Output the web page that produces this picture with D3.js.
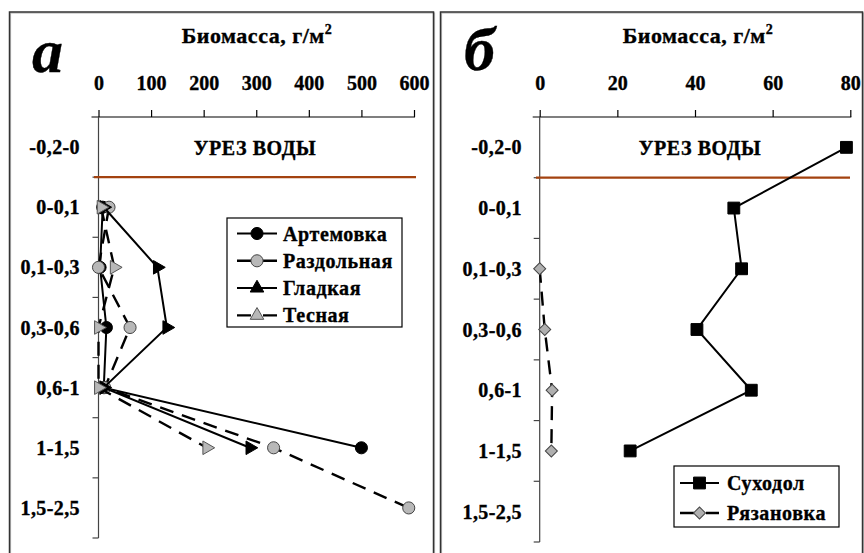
<!DOCTYPE html>
<html><head><meta charset="utf-8">
<script src="https://cdn.jsdelivr.net/npm/d3@7"></script>
<style>
body{margin:0;background:#fff;}
svg{display:block;}
svg text{font-family:"Liberation Serif","Times New Roman",serif !important;font-weight:bold;stroke:#000;stroke-width:0.35px;}
</style>
</head><body><svg id="c" width="864" height="553"></svg>
<script>
// ---- data ----
const depthCategories = ["-0,2-0","0-0,1","0,1-0,3","0,3-0,6","0,6-1","1-1,5","1,5-2,5"];
const ticksA = [0,100,200,300,400,500,600];
const ticksB = [0,20,40,60,80];
const artemovka  = [null, 8, 3, 15, 10, 500, null];
const razdolnaya = [null, 20, 0, 60, 12, 333, 590];
const gladkaya   = [null, 10, 112, 130, 10, 288, null];
const tesnaya    = [null, 5, 30, 0, 0, 206, null];
const sukhodol   = [79, 50, 52, 40.5, 54.5, 23.3, null];
const ryazanovka = [null, null, 0, 1.3, 3.2, 3, null];
const axisTitle = "Биомасса, г/м";
const waterLabel = "УРЕЗ ВОДЫ";

const svg = d3.select("#c");
const BROWN = "#a3420f";
const DASH = "14,9";

function frame(x, y, w, h){
  svg.append("rect").attr("x",x+1).attr("y",y+1).attr("width",w).attr("height",h)
     .attr("fill","none").attr("stroke","#bbb").attr("stroke-width",1.2);
  svg.append("rect").attr("x",x).attr("y",y).attr("width",w).attr("height",h)
     .attr("fill","none").attr("stroke","#333").attr("stroke-width",1.5);
}
frame(9.5, 12, 424, 560);
frame(440.5, 12, 422, 560);

const markers = {
  circleBlack: {type:d3.symbolCircle, size:115, fill:"#000", stroke:"#000", rot:0},
  circleGray:  {type:d3.symbolCircle, size:115, fill:"#b8b8b8", stroke:"#444", rot:0},
  triBlack:    {type:d3.symbolTriangle, size:80, fill:"#000", stroke:"#000", rot:90},
  triGray:     {type:d3.symbolTriangle, size:80, fill:"#b8b8b8", stroke:"#555", rot:90},
  square:      {type:d3.symbolSquare, size:140, fill:"#000", stroke:"#000", rot:0},
  diamond:     {type:d3.symbolSquare, size:72, fill:"#b0b0b0", stroke:"#444", rot:45}
};

function panel(cfg){
  const g = svg.append("g");
  const x = d3.scaleLinear().domain(cfg.domain).range([cfg.x0, cfg.x1]);
  const y = d3.scaleBand().domain(depthCategories).range([cfg.yTop, cfg.yBot]).padding(0);
  const yc = c => y(c) + y.bandwidth()/2;

  const ax = g.append("g").attr("transform",`translate(0,${cfg.yTop})`)
    .call(d3.axisTop(x).tickValues(cfg.ticks).tickSize(7).tickSizeOuter(0).tickPadding(20).tickFormat(d3.format("d")));
  ax.attr("font-family",null).attr("font-size",null);
  ax.select(".domain").remove();
  ax.selectAll(".tick line").attr("stroke","#000").attr("stroke-width",1.2);
  ax.selectAll(".tick text").attr("font-size",20).attr("fill","#000");
  g.append("line").attr("x1",cfg.x0-7).attr("x2",cfg.x1+1).attr("y1",cfg.yTop).attr("y2",cfg.yTop)
    .attr("stroke","#000").attr("stroke-width",1.2);

  g.append("line").attr("x1",cfg.x0).attr("x2",cfg.x0).attr("y1",cfg.yTop).attr("y2",cfg.yBot)
    .attr("stroke","#444").attr("stroke-width",1.2);
  const bounds = depthCategories.slice(1).map(c=>y(c)).concat([cfg.yBot]);
  g.selectAll(".yt").data(bounds).enter().append("line")
    .attr("x1",cfg.x0-6).attr("x2",cfg.x0).attr("y1",d=>d).attr("y2",d=>d)
    .attr("stroke","#444").attr("stroke-width",1.2);
  g.selectAll(".yl").data(depthCategories).enter().append("text")
    .attr("x",cfg.labelX).attr("y",d=>yc(d)+7).attr("text-anchor","end")
    .attr("font-size",20).attr("letter-spacing","0.4px").text(d=>d);

  const t = g.append("text").attr("x",cfg.titleX).attr("y",43).attr("text-anchor","middle").attr("font-size",22).attr("letter-spacing","0.5px");
  t.append("tspan").text(axisTitle);
  t.append("tspan").attr("font-size",14).attr("dy",-9).text("2");
  g.append("text").attr("x",cfg.letterX).attr("y",cfg.letterY).attr("font-size",62)
    .attr("font-style","italic").text(cfg.letter);
  g.append("text").attr("x",cfg.waterX).attr("y",155).attr("text-anchor","middle").attr("font-size",20).attr("letter-spacing","0.6px").text(waterLabel);
  g.append("line").attr("x1",cfg.wl0).attr("x2",cfg.wl1).attr("y1",y(depthCategories[1])).attr("y2",y(depthCategories[1]))
    .attr("stroke",BROWN).attr("stroke-width",2.2);

  cfg.series.forEach(s=>{
    const pts = depthCategories.map((c,i)=>({c, v:s.values[i]}));
    const line = d3.line().defined(d=>d.v!=null).x(d=>x(d.v)).y(d=>yc(d.c));
    g.append("path").attr("d",line(pts)).attr("fill","none").attr("stroke","#000")
      .attr("stroke-width",s.dash?2.4:2).attr("stroke-dasharray",s.dash?DASH:null);
    const m = markers[s.marker];
    g.selectAll(null).data(pts.filter(d=>d.v!=null)).enter().append("path")
      .attr("d",d3.symbol().type(m.type).size(m.size)())
      .attr("transform",d=>`translate(${x(d.v)},${yc(d.c)}) rotate(${m.rot})`)
      .attr("fill",m.fill).attr("stroke",m.stroke).attr("stroke-width",1);
  });

  const L = cfg.legend;
  g.append("rect").attr("x",L.x).attr("y",L.y).attr("width",L.w).attr("height",L.h)
    .attr("fill","#fff").attr("stroke","#000").attr("stroke-width",1.2);
  cfg.series.forEach((s,i)=>{
    const yy = L.y0 + i*L.dy;
    g.append("line").attr("x1",L.lx0).attr("x2",L.lx1).attr("y1",yy).attr("y2",yy)
      .attr("stroke","#000").attr("stroke-width",s.dash?2.4:2).attr("stroke-dasharray",s.dash?"14,12":null);
    const m = markers[s.marker];
    const rot = (s.marker.startsWith("tri")) ? 0 : m.rot;
    g.append("path").attr("d",d3.symbol().type(m.type).size(m.size)())
      .attr("transform",`translate(${(L.lx0+L.lx1)/2},${yy}) rotate(${rot})`)
      .attr("fill",m.fill).attr("stroke",m.stroke).attr("stroke-width",1);
    g.append("text").attr("x",L.tx).attr("y",yy+7).attr("font-size",20).attr("letter-spacing","0.6px").text(s.name);
  });
}

panel({
  domain:[0,600], ticks:ticksA, x0:98.5, x1:414, yTop:117, yBot:538, labelX:80,
  titleX:257, letter:"а", letterX:32, letterY:72, waterX:255, wl0:94, wl1:416,
  series:[
    {name:"Артемовка", values:artemovka, marker:"circleBlack", dash:false},
    {name:"Раздольная", values:razdolnaya, marker:"circleGray", dash:true},
    {name:"Гладкая", values:gladkaya, marker:"triBlack", dash:false},
    {name:"Тесная", values:tesnaya, marker:"triGray", dash:true}
  ],
  legend:{x:227,y:218,w:175,h:109,y0:233.5,dy:27.3,lx0:237,lx1:277,tx:283}
});
panel({
  domain:[0,80], ticks:ticksB, x0:539.7, x1:850.3, yTop:117, yBot:542, labelX:522,
  titleX:698, letter:"б", letterX:464, letterY:70, waterX:700, wl0:536, wl1:850,
  series:[
    {name:"Суходол", values:sukhodol, marker:"square", dash:false},
    {name:"Рязановка", values:ryazanovka, marker:"diamond", dash:true}
  ],
  legend:{x:674,y:466,w:165,h:61,y0:483,dy:30,lx0:680,lx1:719,tx:727}
});
</script></body></html>
